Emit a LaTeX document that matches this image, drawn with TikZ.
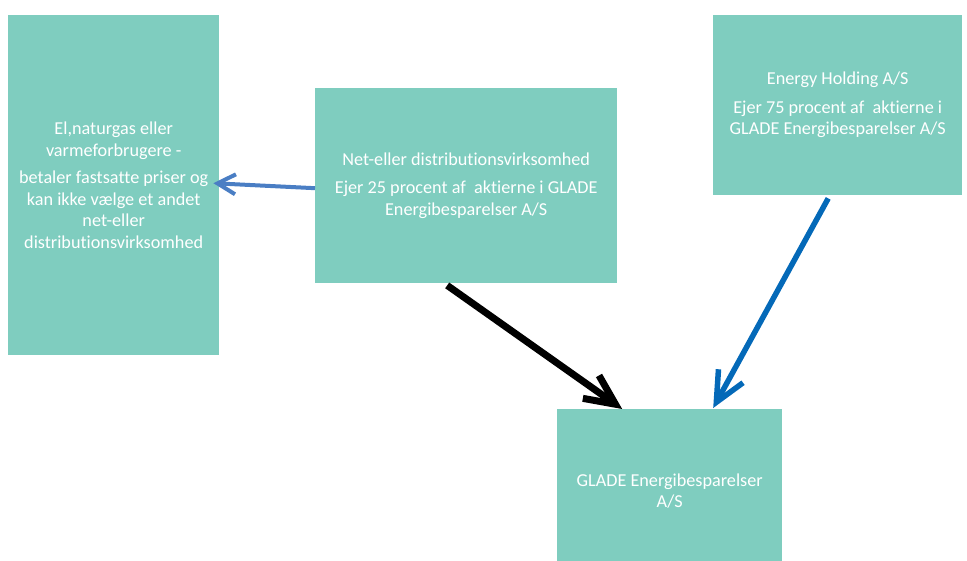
\documentclass[tikz,border=0pt]{standalone}
\usepackage{fontspec}
\setmainfont{Carlito}[Ligatures=NoCommon]
\definecolor{dkturkis}{HTML}{7FCDBF}
\definecolor{dkblaa}{HTML}{4A7EC4}
\definecolor{dkmoerkblaa}{HTML}{0469B8}
\def\maukasse{dkturkis}
\def\maupil{dkblaa}
\def\maupilhoejre{dkmoerkblaa}
\usetikzlibrary{arrows.meta}

\begin{document}
\begin{tikzpicture}[x=1pt,y=-1pt,
	kasse/.style={fill=\maukasse,text=white,inner sep=0pt,anchor=north west,align=center,font=\fontsize{18.2}{21.5}\selectfont}]
		\useasboundingbox (0,0) rectangle (967,561);
		\clip (0,0) rectangle (967,561);
		\node[kasse,minimum width=211pt,minimum height=340pt] (forbruger) at (8,15)
		{El,naturgas eller\\varmeforbrugere -\\[6pt]betaler fastsatte priser og\\kan ikke vælge et andet\\net-eller\\distributionsvirksomhed};
		\node[kasse,minimum width=302pt,minimum height=195pt] (net) at (315,88)
		{Net-eller distributionsvirksomhed\\[7pt]Ejer 25 procent af~ aktierne i GLADE\\Energibesparelser A/S};
		\node[kasse,minimum width=249pt,minimum height=180pt] (holding) at (713,15)
		{Energy Holding A/S\\[7pt]Ejer 75 procent af~ aktierne i\\GLADE Energibesparelser A/S};
		\node[kasse,minimum width=225pt,minimum height=164pt] (glade) at (557,409)
		{GLADE Energibesparelser\\A/S};
		
		\draw[\maupil,line width=4pt,-{Straight Barb[length=18pt,width=20pt]}]
		([yshift=-2.5pt]net.west) -- ([xshift=-6pt,yshift=2pt]forbruger.east);
		\draw[black,line width=7pt,-{Straight Barb[length=30pt,width=28pt]}]
		([xshift=-19pt,yshift=-2pt]net.south) -- ([xshift=-47.5pt]glade.north);
		\draw[\maupilhoejre,line width=5.5pt,-{Straight Barb[length=30pt,width=28pt]}]
		([xshift=-9.5pt,yshift=-3pt]holding.south) -- ([xshift=43.5pt,yshift=1pt]glade.north);
\end{tikzpicture}
\end{document}
